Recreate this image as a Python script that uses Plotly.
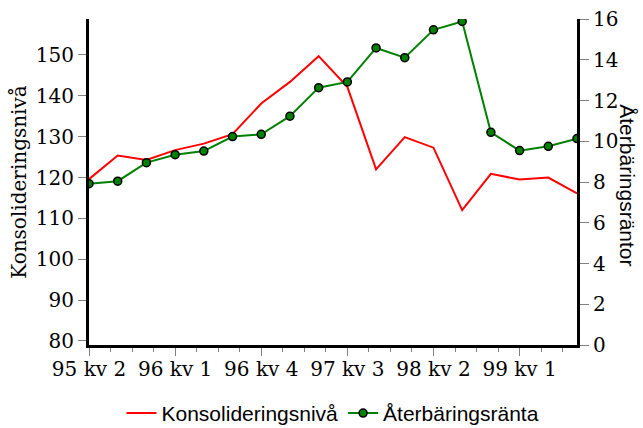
import plotly.graph_objects as go

quarters = ["95 kv 2", "95 kv 3", "95 kv 4", "96 kv 1", "96 kv 2", "96 kv 3",
            "96 kv 4", "97 kv 1", "97 kv 2", "97 kv 3", "97 kv 4", "98 kv 1",
            "98 kv 2", "98 kv 3", "98 kv 4", "99 kv 1", "99 kv 2", "99 kv 3"]
konsolidering = [119.6, 125.4, 124.3, 126.7, 128.3, 130.6, 138.1, 143.4, 149.7,
                 142.2, 122.0, 129.9, 127.3, 112.0, 120.9, 119.5, 120.0, 116.1]
aterbaring = [7.92, 8.04, 8.95, 9.34, 9.52, 10.23, 10.34, 11.23, 12.63,
              12.91, 14.58, 14.10, 15.47, 15.88, 10.44, 9.54, 9.75, 10.13]
label_step = 3
left_ticks = [80, 90, 100, 110, 120, 130, 140, 150]
right_ticks = [0, 2, 4, 6, 8, 10, 12, 14, 16]

xpos = list(range(len(quarters)))
tickvals = xpos[::label_step]
ticktext = quarters[::label_step]

serif = "DejaVu Serif"
sans = "Liberation Sans"

fig = go.Figure()
fig.add_trace(go.Scatter(
    x=xpos, y=konsolidering, name="Konsolideringsnivå", mode="lines",
    line=dict(color="#ff0000", width=2), yaxis="y"))
fig.add_trace(go.Scatter(
    x=xpos, y=aterbaring, name="Återbäringsränta", mode="lines+markers",
    line=dict(color="#008000", width=2),
    marker=dict(symbol="circle", size=8, color="#008000",
                line=dict(color="#000000", width=1.5)),
    yaxis="y2"))

fig.update_layout(
    width=643, height=428,
    margin=dict(l=89, r=66, t=19, b=83, autoexpand=False),
    paper_bgcolor="white", plot_bgcolor="white",
    showlegend=True,
    legend=dict(orientation="h", x=0.5, xanchor="center", y=-0.21, yanchor="middle",
                font=dict(family=sans, size=21, color="black"),
                itemwidth=30, tracegroupgap=0),
    xaxis=dict(
        range=[0, len(quarters) - 1], tickmode="array", tickvals=tickvals, ticktext=ticktext,
        showgrid=False, zeroline=False, automargin=False,
        showline=True, linecolor="black", linewidth=3,
        ticks="outside", ticklen=8, tickwidth=1, tickcolor="#808080",
        ticklabelstandoff=-4,
        tickfont=dict(family=serif, size=20, color="black"),
        minor=dict(ticks="outside", dtick=0.75, tick0=0, ticklen=4, tickwidth=1,
                   tickcolor="#808080", showgrid=False),
    ),
    yaxis=dict(
        range=[79, 158.8], tickmode="array", tickvals=left_ticks,
        showgrid=False, zeroline=False, automargin=False,
        showline=True, linecolor="black", linewidth=3,
        ticks="outside", ticklen=8, tickwidth=1, tickcolor="#808080",
        tickfont=dict(family=serif, size=20, color="black"),
        title=dict(text="Konsolideringsnivå", font=dict(family=serif, size=20, color="black"),
                   standoff=4),
    ),
    yaxis2=dict(
        range=[0, 16], tickmode="array", tickvals=right_ticks,
        overlaying="y", side="right",
        showgrid=False, zeroline=False, automargin=False,
        showline=True, linecolor="black", linewidth=3,
        ticks="outside", ticklen=9, tickwidth=1, tickcolor="#808080",
        tickfont=dict(family=serif, size=20, color="black"),
    ),
    annotations=[dict(
        text="Återbäringsräntor", xref="paper", yref="paper",
        x=1.1045, y=0.49, xanchor="center", yanchor="middle",
        textangle=90, showarrow=False,
        font=dict(family=sans, size=21, color="black"))],
)

fig.write_html("out.html", config={"displayModeBar": False},
               post_script="document.body.style.margin='0';document.body.style.overflow='hidden';")
